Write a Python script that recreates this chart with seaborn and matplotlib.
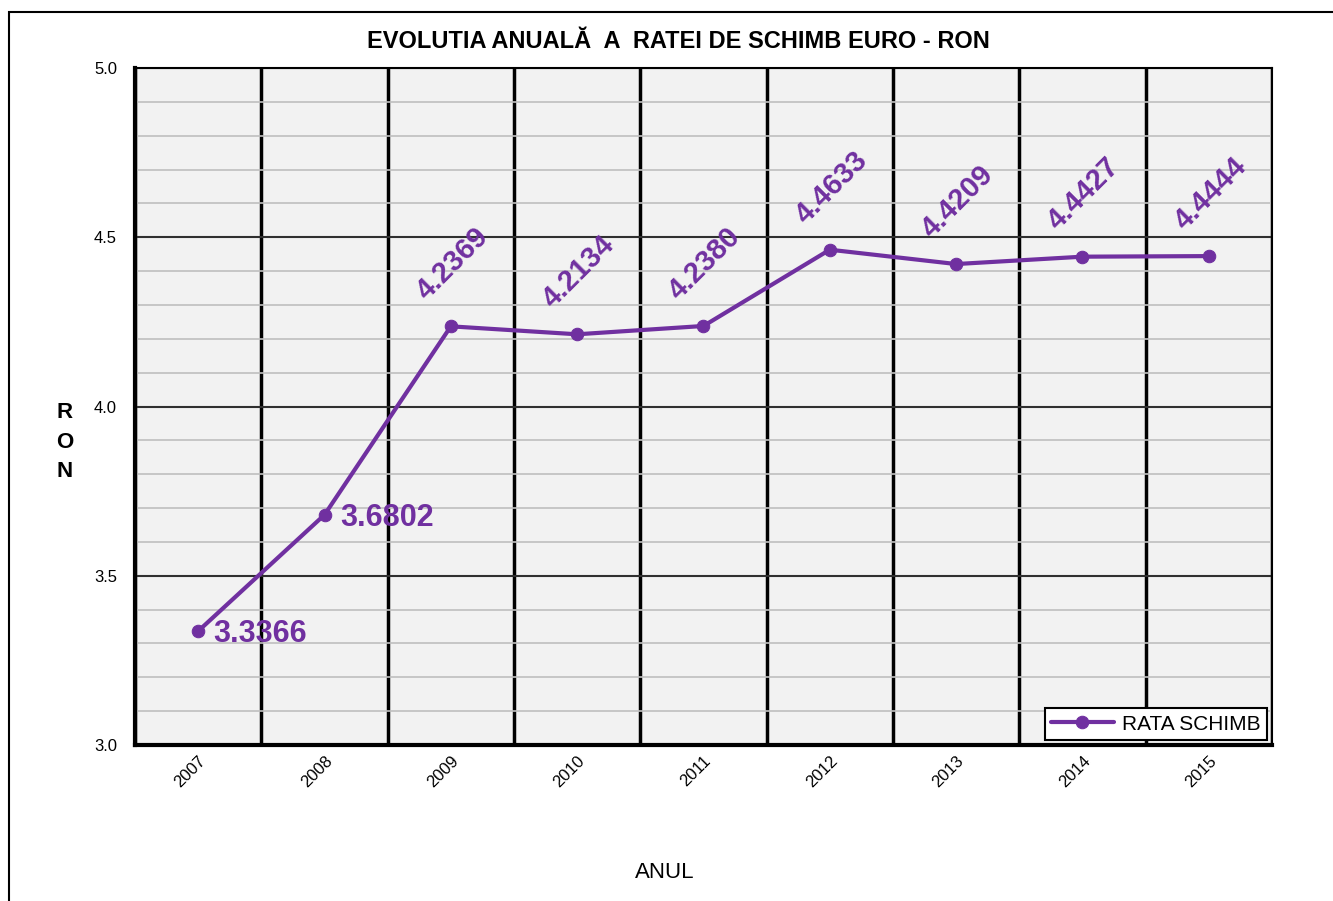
import matplotlib
matplotlib.use("Agg")
import matplotlib.pyplot as plt
import matplotlib.patches as mpatches
from matplotlib.ticker import MultipleLocator, FixedLocator
import seaborn as sns
import pandas as pd

years = ["2007", "2008", "2009", "2010", "2011", "2012", "2013", "2014", "2015"]
rates = [3.3366, 3.6802, 4.2369, 4.2134, 4.2380, 4.4633, 4.4209, 4.4427, 4.4444]
label_rotated = [False, False, True, True, True, True, True, True, True]

purple = "#7030A0"

sns.set_style("white")
plt.rcParams["font.family"] = ["Liberation Sans", "DejaVu Sans"]
plt.rcParams["text.color"] = "black"
plt.rcParams["xtick.color"] = "black"
plt.rcParams["ytick.color"] = "black"

df = pd.DataFrame({"idx": range(len(years)), "rate": rates})

W, H = 1333, 901
fig = plt.figure(figsize=(W / 100, H / 100), dpi=100)
ax = fig.add_axes([0.1013, 0.1731, 0.8529, 0.7514])
ax.set_facecolor("#F2F2F2")

# frame around the chart area (runs off the image right/bottom)
fig.patches.append(mpatches.Rectangle((0.007, -0.2), 1.2, 1.2 - 12 / H,
                                      transform=fig.transFigure, fill=False,
                                      edgecolor="black", linewidth=1.5, zorder=0))

sns.lineplot(data=df, x="idx", y="rate", ax=ax, color=purple, linewidth=3,
             marker="o", markersize=9, markeredgecolor=purple,
             label="RATA SCHIMB", zorder=5)
ax.set_xlabel("")
ax.set_ylabel("")

ax.set_xlim(-0.5, len(years) - 0.5)
ax.set_ylim(3.0, 5.0)

# grid
ax.yaxis.set_major_locator(MultipleLocator(0.5))
ax.yaxis.set_minor_locator(MultipleLocator(0.1))
ax.xaxis.set_major_locator(FixedLocator(range(len(years))))
ax.xaxis.set_minor_locator(FixedLocator([i - 0.5 for i in range(len(years) + 1)]))
ax.grid(which="minor", axis="y", color="#BFBFBF", linewidth=1.2, zorder=1)
ax.grid(which="major", axis="y", color="#303030", linewidth=1.5, zorder=2)
ax.grid(which="minor", axis="x", color="black", linewidth=2.5, zorder=2)
ax.set_axisbelow(True)

ax.set_yticks([3.0, 3.5, 4.0, 4.5, 5.0])
ax.set_yticklabels(["3.0", "3.5", "4.0", "4.5", "5.0"], fontsize=12)
ax.set_xticks(range(len(years)))
ax.set_xticklabels(years, fontsize=12, rotation=45, ha="right",
                   rotation_mode="anchor")
ax.tick_params(axis="x", which="major", length=0, pad=6)
ax.tick_params(axis="x", which="minor", length=5, width=2.5, direction="out",
               color="black")
ax.tick_params(axis="y", which="both", length=5, width=2.5, direction="out",
               color="black")
ax.tick_params(axis="y", which="major", pad=8)

for s in ["left", "bottom"]:
    ax.spines[s].set_linewidth(3)
    ax.spines[s].set_color("black")
for s in ["top", "right"]:
    ax.spines[s].set_linewidth(1.5)
    ax.spines[s].set_color("black")

# data labels
for i, (v, rot) in enumerate(zip(rates, label_rotated)):
    if rot:
        ax.annotate(f"{v:.4f}", (i, v), xytext=(1, 45), textcoords="offset points",
                    ha="center", va="center", rotation=45, rotation_mode="anchor",
                    fontsize=21, fontweight="bold", color=purple, zorder=6)
    else:
        ax.annotate(f"{v:.4f}", (i, v), xytext=(11, -2), textcoords="offset points",
                    ha="left", va="center", fontsize=22, fontweight="bold",
                    color=purple, zorder=6)

fig.text(678 / W, 1 - 42 / H, "EVOLUTIA ANUALĂ  A  RATEI DE SCHIMB EURO - RON",
         fontsize=17, fontweight="bold", ha="center", va="center")
fig.text(665 / W, 1 - 873 / H, "ANUL", fontsize=16, ha="center", va="center")
fig.text(65 / W, 1 - 442 / H, "R\nO\nN", fontsize=16, fontweight="bold",
         ha="center", va="center", linespacing=1.55)

leg = ax.legend(loc="lower right", fontsize=15, frameon=True, fancybox=False,
                borderaxespad=0.25, handlelength=3.0, borderpad=0.3,
                handletextpad=0.4)
leg.get_frame().set_edgecolor("black")
leg.get_frame().set_linewidth(1.5)
leg.get_frame().set_facecolor("white")
leg.get_frame().set_alpha(1)

fig.savefig("out.png", dpi=100)
